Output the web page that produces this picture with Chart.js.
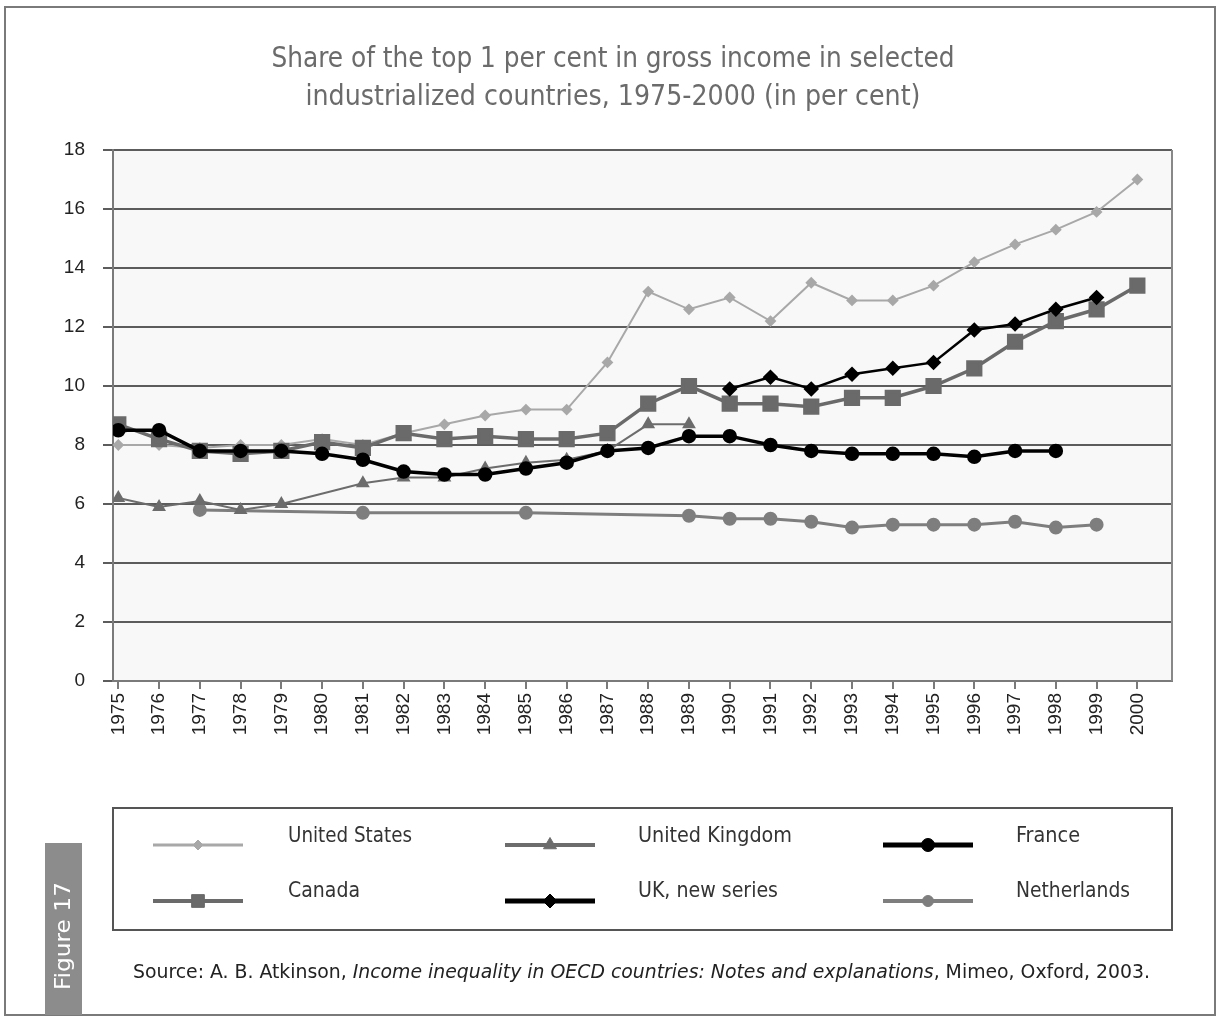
<!DOCTYPE html>
<html>
<head>
<meta charset="utf-8">
<title>Share of the top 1 per cent</title>
<script src="https://cdn.jsdelivr.net/npm/chart.js@4/dist/chart.umd.min.js"></script>
<style>
    html, body { margin: 0; padding: 0; background: #ffffff; }
    #chart { display: block; }
</style>
</head>
<body>
<canvas id="chart" width="1221" height="1019"></canvas>
<script>
const years = [1975, 1976, 1977, 1978, 1979, 1980, 1981, 1982, 1983, 1984, 1985, 1986, 1987,
    1988, 1989, 1990, 1991, 1992, 1993, 1994, 1995, 1996, 1997, 1998, 1999, 2000];

const unitedStates = [8.0, 8.0, 7.9, 8.0, 8.0, 8.2, 8.0, 8.4, 8.7, 9.0, 9.2, 9.2, 10.8,
    13.2, 12.6, 13.0, 12.2, 13.5, 12.9, 12.9, 13.4, 14.2, 14.8, 15.3, 15.9, 17.0];
const unitedKingdom = [6.2, 5.9, 6.1, 5.8, 6.0, null, 6.7, 6.9, 6.9, 7.2, 7.4, 7.5, 7.8,
    8.7, 8.7, null, null, null, null, null, null, null, null, null, null, null];
const france = [8.5, 8.5, 7.8, 7.8, 7.8, 7.7, 7.5, 7.1, 7.0, 7.0, 7.2, 7.4, 7.8,
    7.9, 8.3, 8.3, 8.0, 7.8, 7.7, 7.7, 7.7, 7.6, 7.8, 7.8, null, null];
const canada = [8.7, 8.2, 7.8, 7.7, 7.8, 8.1, 7.9, 8.4, 8.2, 8.3, 8.2, 8.2, 8.4,
    9.4, 10.0, 9.4, 9.4, 9.3, 9.6, 9.6, 10.0, 10.6, 11.5, 12.2, 12.6, 13.4];
const ukNewSeries = [null, null, null, null, null, null, null, null, null, null, null, null, null,
    null, null, 9.9, 10.3, 9.9, 10.4, 10.6, 10.8, 11.9, 12.1, 12.6, 13.0, null];
const netherlands = [null, null, 5.8, null, null, null, 5.7, null, null, null, 5.7, null, null,
    null, 5.6, 5.5, 5.5, 5.4, 5.2, 5.3, 5.3, 5.3, 5.4, 5.2, 5.3, null];

const yTicks = [0, 2, 4, 6, 8, 10, 12, 14, 16, 18];

const titleLines = ['Share of the top 1 per cent in gross income in selected',
    'industrialized countries, 1975-2000 (in per cent)'];
const sourceParts = ['Source: A. B. Atkinson, ',
    'Income inequality in OECD countries: Notes and explanations',
    ', Mimeo, Oxford, 2003.'];
const figureLabel = 'Figure 17';

const NARROW = "'Liberation Sans Narrow', 'DejaVu Sans Condensed', 'Liberation Sans', sans-serif";
const REGULAR = "'Liberation Sans', Arial, sans-serif";

const toPoints = (values) => years.map((yr, i) => ({ x: yr, y: values[i] }));

// Draw text squeezed/stretched horizontally to a given width
function fitText(ctx, text, cx, cy, width, font, color, align) {
    ctx.save();
    ctx.font = font;
    ctx.fillStyle = color;
    ctx.textBaseline = 'middle';
    const w = ctx.measureText(text).width;
    const k = width / w;
    ctx.translate(cx, cy);
    ctx.scale(k, 1);
    ctx.textAlign = align || 'center';
    ctx.fillText(text, 0, 0);
    ctx.restore();
}

const decorations = {
    id: 'decorations',
    beforeDraw(chart) {
        const { ctx, chartArea: a } = chart;
        ctx.save();
        ctx.fillStyle = '#ffffff';
        ctx.fillRect(0, 0, chart.width, chart.height);
        ctx.fillStyle = '#f8f8f8';
        ctx.fillRect(a.left, a.top, a.right - a.left, a.bottom - a.top);
        ctx.strokeStyle = '#7a7a7a';
        ctx.lineWidth = 2;
        ctx.strokeRect(5, 7, 1210, 1008);
        ctx.restore();

        fitText(ctx, titleLines[0], 613, 59, 683, '29px ' + NARROW, '#6b6b6b');
        fitText(ctx, titleLines[1], 613, 97, 615, '29px ' + NARROW, '#6b6b6b');
    },
    afterDraw(chart) {
        const { ctx, chartArea: a } = chart;
        ctx.save();
        // right edge of plot
        ctx.strokeStyle = '#888888';
        ctx.lineWidth = 2;
        ctx.beginPath();
        ctx.moveTo(a.right, a.top);
        ctx.lineTo(a.right, a.bottom);
        ctx.stroke();

        // legend box
        ctx.strokeStyle = '#555555';
        ctx.lineWidth = 2;
        ctx.strokeRect(113, 808, 1059, 122);

        const colLine = [153, 505, 883];
        const colText = [288, 638, 1016];
        const rowLine = [845, 901];
        const rowText = [836, 891];
        const textWidths = [124, 154, 64, 72, 140, 114];

        chart.data.datasets.forEach((ds, i) => {
            const col = i % 3;
            const row = Math.floor(i / 3);
            const y = rowLine[row];
            ctx.strokeStyle = ds.borderColor;
            ctx.lineWidth = ds.legendLineWidth;
            ctx.beginPath();
            ctx.moveTo(colLine[col], y);
            ctx.lineTo(colLine[col] + 90, y);
            ctx.stroke();
            ctx.fillStyle = ds.pointBackgroundColor;
            ctx.strokeStyle = ds.pointBackgroundColor;
            ctx.lineWidth = 1;
            Chart.helpers.drawPoint(ctx, {
                pointStyle: ds.pointStyle,
                radius: ds.legendPointRadius,
                borderWidth: 1
            }, colLine[col] + 45, y);
            fitText(ctx, ds.label, colText[col], rowText[row], textWidths[i],
                '22px ' + NARROW, '#333333', 'left');
        });

        // source line: normal + italic + normal, scaled together
        ctx.font = '19px ' + NARROW;
        const w0 = ctx.measureText(sourceParts[0]).width;
        const w2 = ctx.measureText(sourceParts[2]).width;
        ctx.font = 'italic 19px ' + NARROW;
        const w1 = ctx.measureText(sourceParts[1]).width;
        const k = 1017 / (w0 + w1 + w2);
        ctx.translate(133, 973);
        ctx.scale(k, 1);
        ctx.fillStyle = '#222222';
        ctx.textBaseline = 'middle';
        ctx.textAlign = 'left';
        ctx.font = '19px ' + NARROW;
        ctx.fillText(sourceParts[0], 0, 0);
        ctx.font = 'italic 19px ' + NARROW;
        ctx.fillText(sourceParts[1], w0, 0);
        ctx.font = '19px ' + NARROW;
        ctx.fillText(sourceParts[2], w0 + w1, 0);
        ctx.restore();

        // figure tag
        ctx.save();
        ctx.fillStyle = '#8c8c8c';
        ctx.fillRect(45, 843, 37, 172);
        ctx.translate(64, 936);
        ctx.rotate(-Math.PI / 2);
        fitText(ctx, figureLabel, 0, 0, 108, '22px ' + NARROW, '#ffffff');
        ctx.restore();
    }
};

const ctx = document.getElementById('chart');

new Chart(ctx, {
    type: 'line',
    data: {
        datasets: [{
            label: 'United States',
            data: toPoints(unitedStates),
            borderColor: '#a8a8a8',
            backgroundColor: '#a8a8a8',
            pointBackgroundColor: '#a8a8a8',
            pointBorderColor: '#a8a8a8',
            borderWidth: 2,
            pointStyle: 'rectRot',
            pointRadius: 4.5,
            legendLineWidth: 3,
            legendPointRadius: 5,
            order: 3
        }, {
            label: 'United Kingdom',
            data: toPoints(unitedKingdom),
            borderColor: '#6c6c6c',
            backgroundColor: '#6c6c6c',
            pointBackgroundColor: '#6c6c6c',
            pointBorderColor: '#6c6c6c',
            borderWidth: 2,
            pointStyle: 'triangle',
            pointRadius: 6,
            legendLineWidth: 4,
            legendPointRadius: 7.5,
            order: 4
        }, {
            label: 'France',
            data: toPoints(france),
            borderColor: '#000000',
            backgroundColor: '#000000',
            pointBackgroundColor: '#000000',
            pointBorderColor: '#000000',
            borderWidth: 3.5,
            pointStyle: 'circle',
            pointRadius: 5.5,
            legendLineWidth: 5,
            legendPointRadius: 6.5,
            order: 1
        }, {
            label: 'Canada',
            data: toPoints(canada),
            borderColor: '#6a6a6a',
            backgroundColor: '#6a6a6a',
            pointBackgroundColor: '#6a6a6a',
            pointBorderColor: '#6a6a6a',
            borderWidth: 3.5,
            pointStyle: 'rect',
            pointRadius: 9,
            legendLineWidth: 4,
            legendPointRadius: 9,
            order: 2
        }, {
            label: 'UK, new series',
            data: toPoints(ukNewSeries),
            borderColor: '#000000',
            backgroundColor: '#000000',
            pointBackgroundColor: '#000000',
            pointBorderColor: '#000000',
            borderWidth: 2.5,
            pointStyle: 'rectRot',
            pointRadius: 6,
            legendLineWidth: 5,
            legendPointRadius: 7,
            order: 0
        }, {
            label: 'Netherlands',
            data: toPoints(netherlands),
            borderColor: '#7e7e7e',
            backgroundColor: '#7e7e7e',
            pointBackgroundColor: '#7e7e7e',
            pointBorderColor: '#7e7e7e',
            borderWidth: 3,
            pointStyle: 'circle',
            pointRadius: 5.5,
            legendLineWidth: 4,
            legendPointRadius: 5.5,
            order: 5
        }]
    },
    options: {
        responsive: false,
        animation: false,
        spanGaps: true,
        layout: {
            padding: { left: 0, right: 49, top: 150, bottom: 278 }
        },
        elements: {
            line: { tension: 0 },
            point: { borderWidth: 1, hoverRadius: 6 }
        },
        plugins: {
            legend: { display: false },
            title: { display: false },
            tooltip: { enabled: false }
        },
        scales: {
            x: {
                type: 'linear',
                min: 1974.87,
                max: 2000.85,
                afterFit: (scale) => { scale.height = 60; },
                afterBuildTicks: (scale) => { scale.ticks = years.map(v => ({ value: v })); },
                border: { display: true, color: '#7a7a7a', width: 2 },
                grid: {
                    drawOnChartArea: false,
                    drawTicks: true,
                    tickLength: 8,
                    color: '#7a7a7a',
                    lineWidth: 2
                },
                ticks: {
                    autoSkip: false,
                    minRotation: 90,
                    maxRotation: 90,
                    padding: 4,
                    color: '#222222',
                    font: { family: REGULAR, size: 19 },
                    callback: (value) => String(value)
                }
            },
            y: {
                min: 0,
                max: 18,
                afterFit: (scale) => { scale.width = 113; },
                afterBuildTicks: (scale) => { scale.ticks = yTicks.map(v => ({ value: v })); },
                border: { display: true, color: '#7a7a7a', width: 2 },
                grid: {
                    color: '#5c5c5c',
                    lineWidth: 2,
                    tickLength: 10
                },
                ticks: {
                    padding: 18,
                    color: '#222222',
                    font: { family: REGULAR, size: 19 }
                }
            }
        }
    },
    plugins: [decorations]
});
</script>
</body>
</html>
